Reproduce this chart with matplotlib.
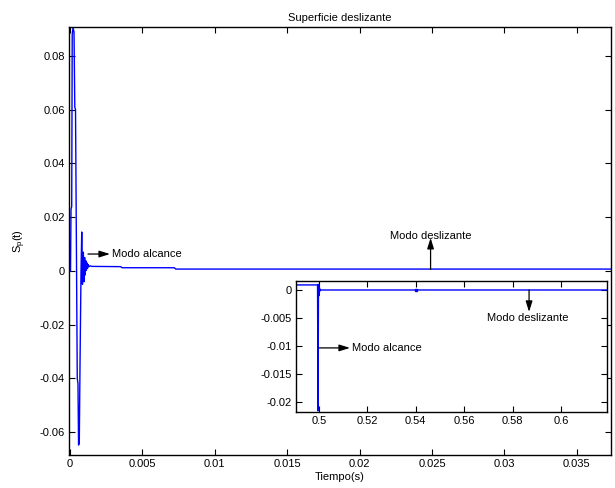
import numpy as np
import matplotlib.pyplot as plt

plt.rcParams['font.family'] = ['Liberation Sans', 'DejaVu Sans']
plt.rcParams['font.size'] = 8

# main curve: sliding surface S_p(t)
t_main = [0, 0.000035, 0.000069, 0.000117, 0.000152, 0.000207, 0.000276, 0.00033,
          0.00038, 0.00045, 0.0005, 0.00055, 0.00059, 0.00064, 0.00069, 0.00076,
          0.00081, 0.00086, 0.00092, 0.00097, 0.00101, 0.00105, 0.00109, 0.00113,
          0.00117, 0.00121, 0.00125, 0.0013, 0.0014, 0.0015, 0.0035, 0.0036,
          0.0072, 0.0073, 0.0374]
s_main = [0, 0.0, 0.023, 0.024, 0.088, 0.0905, 0.089, 0.061,
          0.060, 0.002, -0.040, -0.042, -0.0648, -0.064, -0.035, 0.0,
          0.0145, -0.0050, 0.0070, -0.0040, 0.0050, -0.0015, 0.0038, 0.0002,
          0.0030, 0.0010, 0.0024, 0.0016, 0.0019, 0.0017, 0.0016, 0.0012,
          0.0012, 0.0007, 0.0007]

# zoomed view
t_zoom = [0.4905, 0.4994, 0.4996, 0.4998, 0.5000, 0.5002, 0.5004, 0.5006, 0.5010, 0.5400, 0.6190]
s_zoom = [0.0009, 0.0009, -0.0215, 0.0010, -0.0010, 0.0004, -0.0002, 0.0, 0.0, 0.0, 0.0]

main_xticks = [0, 0.005, 0.01, 0.015, 0.02, 0.025, 0.03, 0.035]
main_xlabels = ['0', '0.005', '0.01', '0.015', '0.02', '0.025', '0.03', '0.035']
main_yticks = [-0.06, -0.04, -0.02, 0, 0.02, 0.04, 0.06, 0.08]
main_ylabels = ['-0.06', '-0.04', '-0.02', '0', '0.02', '0.04', '0.06', '0.08']
zoom_xticks = [0.5, 0.52, 0.54, 0.56, 0.58, 0.6]
zoom_xlabels = ['0.5', '0.52', '0.54', '0.56', '0.58', '0.6']
zoom_yticks = [-0.02, -0.015, -0.01, -0.005, 0]
zoom_ylabels = ['-0.02', '-0.015', '-0.01', '-0.005', '0']


def style_axes(ax):
    for sp in ax.spines.values():
        sp.set_linewidth(1.0)
    ax.tick_params(direction='in', length=4, width=0.8, top=True, right=True,
                   labelsize=8, pad=3)


fig = plt.figure(figsize=(6.15, 4.88), dpi=100)

ax = fig.add_axes([0.1122, 0.0676, 0.8813, 0.8771])
ax.plot(t_main, s_main, color='b', lw=1.0)
ax.set_xlim(-0.00007, 0.03736)
ax.set_ylim(-0.0685, 0.0908)
ax.set_xticks(main_xticks)
ax.set_xticklabels(main_xlabels)
ax.set_yticks(main_yticks)
ax.set_yticklabels(main_ylabels)
style_axes(ax)
ax.set_title('Superficie deslizante', fontsize=8, pad=4)
ax.set_xlabel('Tiempo(s)', labelpad=2)
ax.set_ylabel(r'$\mathregular{S_p(t)}$', labelpad=8)

arrow = dict(arrowstyle='-|>,head_length=0.8,head_width=0.25', color='black', lw=0.9,
             shrinkA=0, shrinkB=0)
ax.annotate('', xy=(0.00276, 0.0063), xytext=(0.00124, 0.0063), arrowprops=arrow)
ax.text(0.0029, 0.0063, 'Modo alcance', va='center', ha='left')
ax.annotate('', xy=(0.0249, 0.0123), xytext=(0.0249, 0.0006), arrowprops=arrow)
ax.text(0.0249, 0.0131, 'Modo deslizante', va='center', ha='center')

axin = fig.add_axes([0.4813, 0.1557, 0.5057, 0.2685])
axin.plot(t_zoom, s_zoom, color='b', lw=1.0)
axin.plot([0.54], [0.0], 's', color='b', ms=1.5)
axin.set_xlim(0.4905, 0.619)
axin.set_ylim(-0.0217, 0.0016)
axin.set_xticks(zoom_xticks)
axin.set_xticklabels(zoom_xlabels)
axin.set_yticks(zoom_yticks)
axin.set_yticklabels(zoom_ylabels)
style_axes(axin)

axin.annotate('', xy=(0.5128, -0.0103), xytext=(0.5, -0.0103), arrowprops=arrow)
axin.text(0.5136, -0.0103, 'Modo alcance', va='center', ha='left')
axin.annotate('', xy=(0.5868, -0.0039), xytext=(0.5868, 0.0), arrowprops=arrow)
axin.text(0.5864, -0.0049, 'Modo deslizante', va='center', ha='center')

fig.savefig('out.png', dpi=100)
